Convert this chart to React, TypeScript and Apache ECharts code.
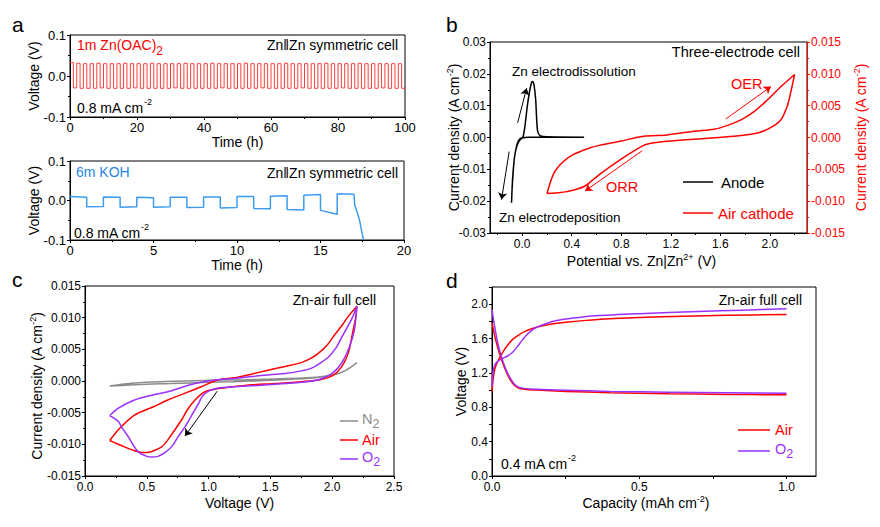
import React, { useEffect, useRef } from "react";
import * as echarts from "echarts";

const FONT = '"Liberation Sans", Arial, Helvetica, sans-serif';
const RED = "#ff0000";
const PURPLE = "#9b30ff";
const GRAY = "#8c8c8c";
const BLUE = "#3d9bf0";
const ACET = "#ff3d3d";

// ---------- Panel a (top): 1m Zn(OAc)2, plateau voltage of each 1 h half-cycle ----------
const acetateStripV = [
  0.033, 0.031, 0.030, 0.030, 0.031, 0.030, 0.030, 0.030, 0.031, 0.030,
  0.030, 0.030, 0.031, 0.030, 0.030, 0.030, 0.030, 0.031, 0.030, 0.030,
  0.030, 0.031, 0.030, 0.030, 0.030, 0.030, 0.031, 0.030, 0.030, 0.030,
  0.030, 0.030, 0.031, 0.030, 0.030, 0.030, 0.030, 0.030, 0.031, 0.030,
  0.030, 0.030, 0.030, 0.031, 0.030, 0.030, 0.030, 0.030, 0.030, 0.030,
];
const acetatePlateV = [
  -0.029, -0.030, -0.030, -0.030, -0.029, -0.030, -0.030, -0.030, -0.030, -0.029,
  -0.030, -0.030, -0.030, -0.030, -0.030, -0.029, -0.030, -0.030, -0.030, -0.030,
  -0.030, -0.030, -0.029, -0.030, -0.030, -0.030, -0.030, -0.030, -0.029, -0.030,
  -0.030, -0.030, -0.030, -0.030, -0.029, -0.030, -0.030, -0.030, -0.030, -0.030,
  -0.029, -0.030, -0.030, -0.030, -0.030, -0.030, -0.029, -0.030, -0.030, -0.030,
];

// ---------- Panel a (bottom): 6m KOH, start / end voltage of each 1 h segment ----------
const kohSegStartV = [0.010, -0.016, 0.009, -0.017, 0.008, -0.017, 0.008, -0.018, 0.009, -0.019, 0.010, -0.020, 0.011, -0.023, 0.013, -0.025, 0.017];
const kohSegEndV = [0.008, -0.015, 0.008, -0.016, 0.007, -0.016, 0.008, -0.017, 0.009, -0.018, 0.010, -0.021, 0.012, -0.024, 0.015, -0.035, 0.016];
const kohTailT = [17.05, 17.2, 17.35, 17.5, 17.58];
const kohTailV = [-0.012, -0.03, -0.052, -0.086, -0.1];

// ---------- Panel b: three-electrode CVs ----------
const anodeV = [0.5, 0.3, 0.15, 0.05, 0.0, -0.02, -0.035, -0.05, -0.062, -0.073, -0.081, -0.086, -0.082, -0.074, -0.064, -0.05, -0.035, -0.018, 0.0, 0.008, 0.022, 0.041, 0.062, 0.076, 0.084, 0.095, 0.109, 0.117, 0.125, 0.144, 0.198, 0.5];
const anodeJ = [0.0001, 0.0001, 0.0001, 0.0001, -0.0002, -0.0009, -0.0019, -0.0036, -0.0062, -0.0105, -0.0155, -0.0205, -0.0165, -0.0115, -0.0068, -0.0035, -0.0014, -0.0004, 0.0, 0.0003, 0.0035, 0.0098, 0.015, 0.0173, 0.0176, 0.0166, 0.0119, 0.0056, 0.0019, 0.0006, 0.0002, 0.0001];
const cathodeV = [0.2, 0.215, 0.235, 0.265, 0.32, 0.41, 0.55, 0.63, 0.79, 0.98, 1.17, 1.39, 1.55, 1.66, 1.77, 1.875, 1.98, 2.09, 2.2, 2.17, 2.14, 2.09, 2.01, 1.9, 1.71, 1.44, 1.17, 1.0, 0.92, 0.79, 0.63, 0.5, 0.36, 0.27, 0.2];
const cathodeJ = [-0.0088, -0.0078, -0.0066, -0.0053, -0.004, -0.0027, -0.0016, -0.0012, -0.0006, 0.0002, 0.0004, 0.001, 0.0013, 0.0019, 0.0028, 0.0041, 0.0059, 0.008, 0.0099, 0.0072, 0.0049, 0.0028, 0.0016, 0.0007, 0.0002, -0.0002, -0.0006, -0.0011, -0.0019, -0.0035, -0.0057, -0.0077, -0.0085, -0.0087, -0.0088];

// ---------- Panel c: Zn-air full cell CVs ----------
const n2V = [0.2, 0.3, 0.5, 0.8, 1.0, 1.3, 1.5, 1.8, 1.95, 2.05, 2.12, 2.2, 2.15, 2.08, 2.0, 1.9, 1.7, 1.5, 1.2, 1.0, 0.7, 0.5, 0.3, 0.2];
const n2J = [-0.0008, -0.0005, -0.0002, 0.0, 0.0001, 0.0002, 0.0003, 0.0005, 0.0008, 0.0012, 0.0018, 0.0029, 0.0022, 0.0014, 0.0009, 0.0006, 0.0003, 0.0001, -0.0001, -0.0002, -0.0004, -0.0005, -0.0007, -0.0008];
const airV = [0.2, 0.27, 0.4, 0.55, 0.67, 0.8, 0.94, 1.08, 1.21, 1.35, 1.48, 1.62, 1.75, 1.83, 1.89, 1.96, 2.02, 2.08, 2.13, 2.2, 2.19, 2.17, 2.13, 2.075, 2.0, 1.9, 1.75, 1.55, 1.35, 1.2, 1.08, 0.97, 0.89, 0.83, 0.78, 0.72, 0.67, 0.62, 0.57, 0.5, 0.46, 0.4, 0.32, 0.26, 0.2];
const airJ = [-0.0094, -0.0077, -0.0054, -0.0041, -0.003, -0.002, -0.0009, 0.0002, 0.0005, 0.0011, 0.0017, 0.0023, 0.0029, 0.0036, 0.0044, 0.0057, 0.0073, 0.0088, 0.0102, 0.0118, 0.01, 0.0081, 0.0044, 0.0022, 0.0008, 0.0002, -0.0001, -0.0004, -0.0006, -0.0009, -0.0012, -0.0017, -0.003, -0.0045, -0.0062, -0.0079, -0.0093, -0.0104, -0.0109, -0.0113, -0.0113, -0.011, -0.0104, -0.0099, -0.0094];
const o2V = [0.2, 0.27, 0.4, 0.55, 0.67, 0.8, 0.89, 1.0, 1.08, 1.21, 1.35, 1.5, 1.62, 1.75, 1.83, 1.9, 1.97, 2.03, 2.08, 2.16, 2.2, 2.18, 2.14, 2.075, 2.0, 1.89, 1.75, 1.62, 1.4, 1.21, 1.08, 1.0, 0.95, 0.92, 0.87, 0.81, 0.75, 0.7, 0.64, 0.59, 0.54, 0.5, 0.43, 0.39, 0.35, 0.3, 0.27, 0.23, 0.2];
const o2J = [-0.0055, -0.0043, -0.003, -0.0022, -0.0017, -0.0009, -0.0004, 0.0, 0.0002, 0.0004, 0.0007, 0.001, 0.0012, 0.0016, 0.002, 0.0028, 0.0038, 0.0052, 0.007, 0.0099, 0.0118, 0.0081, 0.0054, 0.0028, 0.0012, 0.0002, -0.0002, -0.0004, -0.0007, -0.0009, -0.0011, -0.0016, -0.0024, -0.0035, -0.0052, -0.0072, -0.0089, -0.0104, -0.0114, -0.0119, -0.012, -0.0119, -0.0112, -0.0101, -0.0088, -0.0074, -0.0064, -0.0058, -0.0055];

// ---------- Panel d: charge / discharge profiles ----------
const airChargeCap = [0, 0.003, 0.008, 0.015, 0.025, 0.04, 0.055, 0.07, 0.09, 0.11, 0.14, 0.18, 0.25, 0.35, 0.5, 0.65, 0.8, 1.0];
const airChargeV = [0.98, 1.1, 1.22, 1.3, 1.37, 1.46, 1.53, 1.59, 1.64, 1.68, 1.72, 1.755, 1.79, 1.82, 1.845, 1.86, 1.87, 1.88];
const o2ChargeCap = [0, 0.003, 0.008, 0.015, 0.025, 0.04, 0.055, 0.07, 0.085, 0.1, 0.12, 0.145, 0.18, 0.22, 0.28, 0.35, 0.5, 0.7, 0.85, 1.0];
const o2ChargeV = [1.05, 1.2, 1.28, 1.32, 1.35, 1.375, 1.4, 1.44, 1.5, 1.57, 1.65, 1.72, 1.77, 1.81, 1.84, 1.865, 1.89, 1.915, 1.93, 1.946];
const dischargeCap = [0, 0.005, 0.01, 0.02, 0.03, 0.045, 0.06, 0.075, 0.09, 0.11, 0.15, 0.25, 0.4, 0.6, 0.8, 1.0];
const airDischargeV = [1.78, 1.7, 1.62, 1.49, 1.38, 1.24, 1.13, 1.06, 1.025, 1.01, 1.0, 0.985, 0.97, 0.958, 0.95, 0.945];
const o2DischargeV = [1.94, 1.82, 1.72, 1.54, 1.41, 1.26, 1.15, 1.075, 1.035, 1.02, 1.01, 0.998, 0.985, 0.975, 0.968, 0.964];

// ---------- tick labels ----------
const bXTicks = [0, 0.4, 0.8, 1.2, 1.6, 2.0];
const bXMinorTicks = [-0.2, 0.2, 0.6, 1.0, 1.4, 1.8, 2.2];
const dXLabels = [0, 0.5, 1.0];
const dXTicks = [0, 0.25, 0.5, 0.75, 1.0];
const dYLabels = [0, 0.4, 0.8, 1.2, 1.6, 2.0];
const dYTicks = [0, 0.2, 0.4, 0.6, 0.8, 1.0, 1.2, 1.4, 1.6, 1.8, 2.0, 2.2];

// ---------- arrows (data coordinates) ----------
const anodeArrows = [
  [[-0.037, 0.0046], [0.036, 0.0155]],
  [[-0.105, -0.0044], [-0.167, -0.0195]],
];
const cathodeArrows = [
  [[1.644, 0.0029], [2.009, 0.008]],
  [[0.968, -0.0021], [0.508, -0.0084]],
];
const fullCellArrow = [[1.07, -0.0016], [0.809, -0.0087]];

const zip = (a: number[], b: number[]) => a.map((v, i) => [v, b[i]]);
const fmt = (d: number) => (v: number) => (Math.abs(v) < 1e-9 ? 0 : v).toFixed(d);

function buildAcetate() {
  const pts: number[][] = [];
  acetateStripV.forEach((s, k) => {
    const t0 = 2 * k;
    const p = acetatePlateV[k];
    pts.push([t0, s], [t0 + 1, s], [t0 + 1, p], [t0 + 2, p]);
  });
  return pts;
}
function buildKoh() {
  const pts: number[][] = [];
  kohSegStartV.forEach((s, i) => {
    pts.push([i, s], [i + 1, kohSegEndV[i]]);
  });
  kohTailT.forEach((t, i) => pts.push([t, kohTailV[i]]));
  return pts;
}

const arrowLines = (arr: number[][][], color: string) => ({
  silent: true,
  symbol: ["none", "arrow"],
  symbolSize: 7,
  label: { show: false },
  lineStyle: { color, width: 1, type: "solid" },
  emphasis: { disabled: true },
  data: arr.map(([a, b]) => [{ coord: a }, { coord: b }]),
});

const richName = (color = "#000", size = 14, padding: number[] = [0, 0, 0, 0]) => ({
  fontFamily: FONT,
  fontSize: size,
  color,
  padding,
  rich: {
    n: { fontFamily: FONT, fontSize: size, lineHeight: 16, verticalAlign: "bottom", color },
    sup: { fontFamily: FONT, fontSize: 9, lineHeight: 10, verticalAlign: "top", color },
  },
});

function axisCommon(color = "#000") {
  return {
    type: "value",
    axisLine: { show: true, onZero: false, lineStyle: { color, width: 1 } },
    axisTick: { show: true, inside: false, length: 3, lineStyle: { color, width: 1 } },
    minorTick: { show: true, splitNumber: 2, length: 2, lineStyle: { color, width: 1 } },
    splitLine: { show: false },
    minorSplitLine: { show: false },
    nameLocation: "middle",
    nameMoveOverlap: false,
    nameTextStyle: richName(color),
  };
}

function txt(x: number, y: number, text: string, opts: any = {}) {
  const size = opts.size ?? 14;
  const color = opts.color ?? "#000";
  const align = opts.align ?? "left";
  return {
    type: "text",
    x,
    y,
    silent: true,
    style: {
      text,
      fill: color,
      fontFamily: FONT,
      fontSize: size,
      align,
      textAlign: align,
      verticalAlign: "middle",
      textVerticalAlign: "middle",
      rich: {
        n: { fontFamily: FONT, fontSize: size, lineHeight: size + 4, verticalAlign: "bottom", fill: color, color },
        sup: { fontFamily: FONT, fontSize: 9, lineHeight: 10, verticalAlign: "top", fill: color, color },
        m: { fontFamily: FONT, fontSize: size, lineHeight: size, verticalAlign: "top", fill: color, color },
        sub: { fontFamily: FONT, fontSize: size - 2, lineHeight: size + 5, verticalAlign: "bottom", fill: color, color },
      },
    },
  };
}

function legendLine(x: number, y: number, len: number, color: string) {
  return {
    type: "line",
    silent: true,
    shape: { x1: x, y1: y, x2: x + len, y2: y },
    style: { stroke: color, lineWidth: 1.5 },
  };
}

export default function App() {
  const ref = useRef<HTMLDivElement>(null);
  useEffect(() => {
    if (!ref.current) return;
    const chart = echarts.init(ref.current, undefined, { renderer: "svg" });

    const option: any = {
      animation: false,
      backgroundColor: "#ffffff",
      grid: [
        { left: 70, top: 35, width: 335, height: 82 },
        { left: 70, top: 161, width: 334, height: 79 },
        { left: 490, top: 42, width: 317, height: 191 },
        { left: 85, top: 286, width: 309, height: 190 },
        { left: 492, top: 287, width: 324, height: 189 },
      ].map((g) => ({ ...g, show: true, borderColor: "#000", borderWidth: 1, containLabel: false })),
      xAxis: [
        {
          ...axisCommon(), gridIndex: 0, min: 0, max: 100, interval: 20,
          axisLabel: { color: "#000", fontFamily: FONT, fontSize: 13, margin: 4 },
          name: "Time (h)", nameGap: 18,
        },
        {
          ...axisCommon(), gridIndex: 1, min: 0, max: 20, interval: 5,
          axisLabel: { color: "#000", fontFamily: FONT, fontSize: 13, margin: 4 },
          name: "Time (h)", nameGap: 18,
        },
        {
          ...axisCommon(), gridIndex: 2, min: -0.26, max: 2.3,
          minorTick: { show: false },
          axisTick: { show: true, length: 3, customValues: bXTicks, lineStyle: { color: "#000" } },
          axisLabel: { color: "#000", fontFamily: FONT, fontSize: 12, margin: 5, customValues: bXTicks, formatter: fmt(1) },
          name: "{n|Potential vs. Zn|Zn}{sup|2+}{n| (V)}", nameGap: 19,
          nameTextStyle: richName("#000", 14, [0, 14, 0, 0]),
        },
        {
          ...axisCommon(), gridIndex: 3, min: 0, max: 2.5, interval: 0.5,
          axisLabel: { color: "#000", fontFamily: FONT, fontSize: 12, margin: 5, formatter: fmt(1) },
          name: "Voltage (V)", nameGap: 20,
        },
        {
          ...axisCommon(), gridIndex: 4, min: 0, max: 1.1,
          minorTick: { show: false },
          axisTick: { show: true, length: 3, customValues: dXTicks, lineStyle: { color: "#000" } },
          axisLabel: { color: "#000", fontFamily: FONT, fontSize: 12, margin: 5, customValues: dXLabels, formatter: fmt(1) },
          name: "{n|Capacity (mAh cm}{sup|-2}{n|)}", nameGap: 18,
          nameTextStyle: richName("#000", 14, [0, 16, 0, 0]),
        },
        {
          type: "value", gridIndex: 2, min: -0.26, max: 2.3, position: "bottom",
          axisLine: { show: false, onZero: false },
          axisLabel: { show: false },
          splitLine: { show: false },
          axisTick: { show: true, length: 2, customValues: bXMinorTicks, lineStyle: { color: "#000" } },
        },
      ],
      yAxis: [
        {
          ...axisCommon(), gridIndex: 0, min: -0.1, max: 0.1, interval: 0.1,
          axisLabel: { color: "#000", fontFamily: FONT, fontSize: 13, margin: 4, formatter: fmt(1) },
          name: "Voltage (V)", nameRotate: 90, nameGap: 29,
        },
        {
          ...axisCommon(), gridIndex: 1, min: -0.1, max: 0.1, interval: 0.1,
          axisLabel: { color: "#000", fontFamily: FONT, fontSize: 13, margin: 4, formatter: fmt(1) },
          name: "Voltage (V)", nameRotate: 90, nameGap: 29,
        },
        {
          ...axisCommon(), gridIndex: 2, min: -0.03, max: 0.03, interval: 0.01,
          axisLabel: { color: "#000", fontFamily: FONT, fontSize: 12, margin: 4, formatter: fmt(2) },
          name: "{n|Current density (A cm}{sup|-2}{n|)}", nameRotate: 90, nameGap: 29,
        },
        {
          ...axisCommon(RED), gridIndex: 2, position: "right", min: -0.015, max: 0.015, interval: 0.005,
          axisLabel: { color: RED, fontFamily: FONT, fontSize: 12, margin: 4, formatter: fmt(3) },
          name: "{n|Current density (A cm}{sup|-2}{n|)}", nameRotate: 90, nameGap: 45,
        },
        {
          ...axisCommon(), gridIndex: 3, min: -0.015, max: 0.015, interval: 0.005,
          axisLabel: { color: "#000", fontFamily: FONT, fontSize: 12, margin: 4, formatter: fmt(3) },
          name: "{n|Current density (A cm}{sup|-2}{n|)}", nameRotate: 90, nameGap: 41,
          nameTextStyle: richName("#000", 14, [0, 10, 0, 0]),
        },
        {
          ...axisCommon(), gridIndex: 4, min: 0, max: 2.2,
          minorTick: { show: false },
          axisTick: { show: true, length: 3, customValues: dYTicks, lineStyle: { color: "#000" } },
          axisLabel: { color: "#000", fontFamily: FONT, fontSize: 12, margin: 4, customValues: dYLabels, formatter: fmt(1) },
          name: "Voltage (V)", nameRotate: 90, nameGap: 24,
        },
      ],
      series: [
        {
          type: "line", name: "1m Zn(OAC)2", xAxisIndex: 0, yAxisIndex: 0, data: buildAcetate(),
          showSymbol: false, symbol: "none", lineStyle: { color: ACET, width: 1 }, itemStyle: { color: ACET },
        },
        {
          type: "line", name: "6m KOH", xAxisIndex: 1, yAxisIndex: 1, data: buildKoh(),
          showSymbol: false, symbol: "none", lineStyle: { color: BLUE, width: 1.5 }, itemStyle: { color: BLUE },
        },
        {
          type: "line", name: "Anode", xAxisIndex: 2, yAxisIndex: 2, data: zip(anodeV, anodeJ),
          showSymbol: false, symbol: "none", smooth: 0.2, lineStyle: { color: "#000", width: 1.5 }, itemStyle: { color: "#000" },
          markLine: arrowLines(anodeArrows, "#000"),
        },
        {
          type: "line", name: "Air cathode", xAxisIndex: 2, yAxisIndex: 3, data: zip(cathodeV, cathodeJ),
          showSymbol: false, symbol: "none", smooth: 0.3, lineStyle: { color: RED, width: 1.5 }, itemStyle: { color: RED },
          markLine: arrowLines(cathodeArrows, RED),
        },
        {
          type: "line", name: "N2", xAxisIndex: 3, yAxisIndex: 4, data: zip(n2V, n2J),
          showSymbol: false, symbol: "none", smooth: 0.3, lineStyle: { color: GRAY, width: 1.5 }, itemStyle: { color: GRAY },
        },
        {
          type: "line", name: "Air", xAxisIndex: 3, yAxisIndex: 4, data: zip(airV, airJ),
          showSymbol: false, symbol: "none", smooth: 0.3, lineStyle: { color: RED, width: 1.5 }, itemStyle: { color: RED },
          markLine: arrowLines([fullCellArrow], "#000"),
        },
        {
          type: "line", name: "O2", xAxisIndex: 3, yAxisIndex: 4, data: zip(o2V, o2J),
          showSymbol: false, symbol: "none", smooth: 0.3, lineStyle: { color: PURPLE, width: 1.5 }, itemStyle: { color: PURPLE },
        },
        {
          type: "line", name: "Air charge", xAxisIndex: 4, yAxisIndex: 5, data: zip(airChargeCap, airChargeV),
          showSymbol: false, symbol: "none", smooth: 0.3, lineStyle: { color: RED, width: 1.5 }, itemStyle: { color: RED },
        },
        {
          type: "line", name: "O2 charge", xAxisIndex: 4, yAxisIndex: 5, data: zip(o2ChargeCap, o2ChargeV),
          showSymbol: false, symbol: "none", smooth: 0.3, lineStyle: { color: PURPLE, width: 1.5 }, itemStyle: { color: PURPLE },
        },
        {
          type: "line", name: "Air discharge", xAxisIndex: 4, yAxisIndex: 5, data: zip(dischargeCap, airDischargeV),
          showSymbol: false, symbol: "none", smooth: 0.3, lineStyle: { color: RED, width: 1.5 }, itemStyle: { color: RED },
        },
        {
          type: "line", name: "O2 discharge", xAxisIndex: 4, yAxisIndex: 5, data: zip(dischargeCap, o2DischargeV),
          showSymbol: false, symbol: "none", smooth: 0.3, lineStyle: { color: PURPLE, width: 1.5 }, itemStyle: { color: PURPLE },
        },
      ],
      graphic: [
        txt(12, 24, "a", { size: 21 }),
        txt(446, 24, "b", { size: 21 }),
        txt(12, 279, "c", { size: 21 }),
        txt(446, 280, "d", { size: 21 }),
        txt(77, 47, "{m|1m Zn(OAC)}{sub|2}", { color: RED }),
        txt(398, 45, "Zn\u2016Zn symmetric cell", { align: "right" }),
        txt(77, 106, "{n|0.8 mA cm}{sup|-2}"),
        txt(76, 172, "6m KOH", { color: "#1f86e6" }),
        txt(398, 173, "Zn\u2016Zn symmetric cell", { align: "right" }),
        txt(74, 231, "{n|0.8 mA cm}{sup|-2}"),
        txt(800, 52, "Three-electrode cell", { align: "right", size: 14.5 }),
        txt(512, 71, "Zn electrodissolution", { size: 13.5 }),
        txt(499, 217, "Zn electrodeposition", { size: 13.5 }),
        txt(731, 84, "OER", { color: RED, size: 14.5 }),
        txt(606, 187, "ORR", { color: RED, size: 14.5 }),
        txt(376, 300, "Zn-air full cell", { align: "right" }),
        txt(802, 300, "Zn-air full cell", { align: "right" }),
        txt(501, 462, "{n|0.4 mA cm}{sup|-2}"),
        // legend b
        legendLine(683, 182, 30, "#000"),
        txt(721, 182, "Anode", { size: 15 }),
        legendLine(683, 213, 30, RED),
        txt(718, 213, "Air cathode", { size: 15, color: RED }),
        // legend c
        legendLine(340, 421, 18, GRAY),
        txt(362, 421, "{m|N}{sub|2}", { size: 14.5, color: GRAY }),
        legendLine(340, 440, 18, RED),
        txt(362, 440, "Air", { size: 14.5, color: RED }),
        legendLine(340, 459, 18, PURPLE),
        txt(362, 459, "{m|O}{sub|2}", { size: 14.5, color: PURPLE }),
        // legend d
        legendLine(738, 430, 32, RED),
        txt(775, 430, "Air", { size: 14.5, color: RED }),
        legendLine(738, 451, 32, PURPLE),
        txt(775, 451, "{m|O}{sub|2}", { size: 14.5, color: PURPLE }),
      ],
    };
    chart.setOption(option);
    return () => chart.dispose();
  }, []);
  return <div ref={ref} style={{ position: "fixed", left: 0, top: 0, width: 880, height: 527, background: "#fff" }} />;
}
